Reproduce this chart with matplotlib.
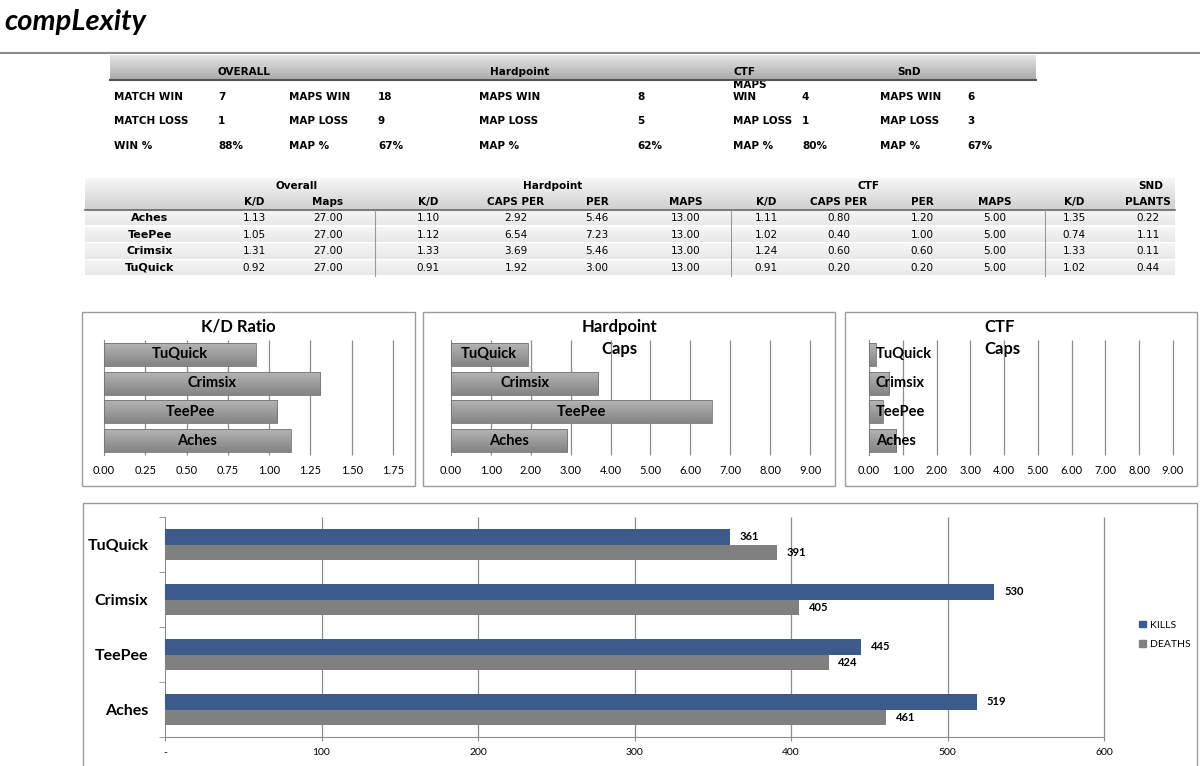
import numpy as np
import matplotlib
matplotlib.use("Agg")
from matplotlib import pyplot as plt
from matplotlib.colors import LinearSegmentedColormap
from matplotlib.patches import Rectangle, Patch

# DATA
players = ["Aches", "TeePee", "Crimsix", "TuQuick"]
overall_kd = [1.13, 1.05, 1.31, 0.92]
overall_maps = [27.00, 27.00, 27.00, 27.00]
hp_kd = [1.10, 1.12, 1.33, 0.91]
hp_caps_per = [2.92, 6.54, 3.69, 1.92]
hp_per = [5.46, 7.23, 5.46, 3.00]
hp_maps = [13.00, 13.00, 13.00, 13.00]
ctf_kd = [1.11, 1.02, 1.24, 0.91]
ctf_caps_per = [0.80, 0.40, 0.60, 0.20]
ctf_per = [1.20, 1.00, 0.60, 0.20]
ctf_maps = [5.00, 5.00, 5.00, 5.00]
snd_kd = [1.35, 0.74, 1.33, 1.02]
snd_plants = [0.22, 1.11, 0.11, 0.44]
kills = [519, 445, 530, 361]
deaths = [461, 424, 405, 391]

summary_headers = ["OVERALL", "Hardpoint", "CTF", "SnD"]
match_labels = ["MATCH WIN", "MATCH LOSS", "WIN %"]
match_values = ["7", "1", "88%"]
map_labels = ["MAPS WIN", "MAP LOSS", "MAP %"]
overall_map_values = ["18", "9", "67%"]
hp_map_values = ["8", "5", "62%"]
ctf_map_values = ["4", "1", "80%"]
snd_map_values = ["6", "3", "67%"]

kd_ticks = [0.00, 0.25, 0.50, 0.75, 1.00, 1.25, 1.50, 1.75]
caps_ticks = [0, 1, 2, 3, 4, 5, 6, 7, 8, 9]
kills_ticks = [0, 100, 200, 300, 400, 500, 600]
kills_tick_labels = ["-", "100", "200", "300", "400", "500", "600"]

W, H = 1200, 766
BLUE = "#3c5a8c"
GRAY = "#808080"
GRID = "#8c8c8c"
CHART_FONT = ["Lato", "DejaVu Sans"]


def fig_box(x0, y0, x1, y1):
    # pixel box (top-left origin) -> figure fraction rect
    return [x0 / W, 1 - y1 / H, (x1 - x0) / W, (y1 - y0) / H]


def gradient(ax, x0, x1, y0, y1, c_top, c_bottom, z=1):
    cmap = LinearSegmentedColormap.from_list("g", [c_top, c_bottom])
    grad = np.linspace(0, 1, 64).reshape(-1, 1)
    ax.imshow(grad, extent=(x0, x1, y1, y0), cmap=cmap, aspect="auto",
              zorder=z, interpolation="bilinear")


fig = plt.figure(figsize=(12, 7.66), dpi=100)
bg = fig.add_axes([0, 0, 1, 1])
bg.axis("off")

# TITLE
bg.text(4, 22, "compLexity", fontsize=21, style="italic", weight="bold",
        va="center", ha="left", color="black", family=CHART_FONT)
bg.plot([0, 1200], [53, 53], color="#8a8a8a", lw=1.5)

# SUMMARY TABLE
gradient(bg, 110, 1036, 55, 80, "#e6e6e6", "#a9a9a9", z=2)
bg.plot([110, 1036], [80, 80], color="#555555", lw=1.5, zorder=3)
bg.text(733, 85, "MAPS", fontsize=7.5, weight="bold", va="center", zorder=1)
for name, x in zip(summary_headers, [218, 490, 733, 897]):
    bg.text(x, 72, name, fontsize=7.5, weight="bold", va="center", zorder=4)

sum_cols = [
    (114, 218, match_labels, match_values),
    (289, 378, map_labels, overall_map_values),
    (479, 637, map_labels, hp_map_values),
    (733, 802, map_labels, ctf_map_values),
    (880, 967, map_labels, snd_map_values),
]
for lx, vx, labels, values in sum_cols:
    for i, (lab, val) in enumerate(zip(labels, values)):
        y = 97 + i * 24.5
        if lx == 733 and i == 0:
            lab = "WIN"
        bg.text(lx, y, lab, fontsize=7.5, weight="bold", va="center")
        bg.text(vx, y, val, fontsize=7.5, weight="bold", va="center")

# PLAYER TABLE
gradient(bg, 85, 1175, 178, 210, "#f7f7f7", "#cfcfcf", z=1)
bg.plot([85, 1175], [210, 210], color="#666666", lw=1.2, zorder=3)

groups = [
    ("Overall", 297, [("K/D", 254, overall_kd), ("Maps", 328, overall_maps)]),
    ("Hardpoint", 553, [("K/D", 428, hp_kd), ("CAPS PER", 516, hp_caps_per),
                        ("PER", 597, hp_per), ("MAPS", 686, hp_maps)]),
    ("CTF", 868, [("K/D", 766, ctf_kd), ("CAPS PER", 839, ctf_caps_per),
                  ("PER", 922, ctf_per), ("MAPS", 995, ctf_maps)]),
    ("SND", 1151, [("K/D", 1074, snd_kd), ("PLANTS", 1148, snd_plants)]),
]
row_y = [218, 234.7, 251.3, 268]
for i, y in enumerate(row_y):
    gradient(bg, 85, 1175, y - 7.5, y + 7.5, "#f6f6f6", "#e8e8e8", z=1)
    bg.text(150, y, players[i], fontsize=8, weight="bold", ha="center",
            va="center", zorder=4)
for gname, gx, cols in groups:
    bg.text(gx, 186, gname, fontsize=7.5, weight="bold", ha="center",
            va="center", zorder=4)
    for sub, cx, vals in cols:
        bg.text(cx, 202, sub, fontsize=7.5, weight="bold", ha="center",
                va="center", zorder=4)
        for y, v in zip(row_y, vals):
            bg.text(cx, y, f"{v:.2f}", fontsize=7.5, ha="center",
                    va="center", zorder=4)
for sx in [375, 731, 1045]:
    bg.plot([sx, sx], [210, 276], color="#9a9a9a", lw=0.8, zorder=3)

# PANEL FRAMES
for x0, y0, x1, y1 in [(82, 312, 415, 486), (423, 312, 835, 486),
                       (845, 312, 1197, 486), (83, 503, 1197, 770)]:
    bg.add_patch(Rectangle((x0, y0), x1 - x0, y1 - y0, fill=False,
                           edgecolor="#9c9c9c", lw=1, zorder=2))

title_kw = dict(fontsize=12, weight="bold", ha="center", va="center",
                family=CHART_FONT, zorder=5)
bg.text(238, 327, "K/D Ratio", **title_kw)
bg.text(619, 327, "Hardpoint", **title_kw)
bg.text(619, 349, "Caps", **title_kw)
bg.text(1000, 327, "CTF", **title_kw)
bg.text(1002, 349, "Caps", **title_kw)

bg.set_xlim(0, W)
bg.set_ylim(H, 0)


# SMALL BAR CHARTS
def small_chart(box, values, ticks, fmt, label_mode):
    ax = fig.add_axes(fig_box(*box))
    ax.set_facecolor("none")
    ypos = np.arange(len(players))
    bars = ax.barh(ypos, values, height=0.8, color="none",
                   edgecolor="#737373", lw=0.6, zorder=3)
    cmap = LinearSegmentedColormap.from_list("bar", ["#b4b4b4", "#848484"])
    grad = np.linspace(0, 1, 32).reshape(-1, 1)
    for b in bars:
        x, y = b.get_x(), b.get_y()
        ax.imshow(grad, extent=(x, x + b.get_width(), y, y + b.get_height()),
                  cmap=cmap, aspect="auto", zorder=2)
    for yv, v, name in zip(ypos, values, players):
        if label_mode == "center":
            ax.text(v / 2, yv, name, ha="center", va="center", fontsize=10.5,
                    weight="bold", family=CHART_FONT, zorder=4)
        else:
            ax.annotate(name, (0, yv), xytext=(5, 0),
                        textcoords="offset points", ha="left", va="center",
                        fontsize=10.5, weight="bold", family=CHART_FONT,
                        zorder=4)
    ax.vlines(ticks[1:], -0.5, len(players) - 0.5, color=GRID, lw=0.9,
              zorder=1, clip_on=False)
    ax.set_xlim(ticks[0], ticks[-1])
    ax.set_ylim(-0.5, len(players) - 0.5)
    ax.set_xticks(ticks)
    ax.set_xticklabels([fmt.format(t) for t in ticks], family=CHART_FONT,
                       fontsize=8)
    ax.set_yticks([])
    ax.tick_params(axis="x", length=0, pad=7)
    for s in ["top", "right", "bottom"]:
        ax.spines[s].set_visible(False)
    ax.spines["left"].set_color(GRID)
    ax.set_aspect("auto")
    return ax


small_chart((104, 340, 393, 455), overall_kd, kd_ticks, "{:.2f}", "center")
small_chart((451, 340, 810, 455), hp_caps_per, caps_ticks, "{:.2f}", "center")
small_chart((869, 340, 1173, 455), ctf_caps_per, caps_ticks, "{:.2f}", "base")

# KILLS / DEATHS CHART
ax = fig.add_axes(fig_box(165, 517, 1104, 737))
ax.set_facecolor("none")
ypos = np.arange(len(players))
bh = 0.285
kb = ax.barh(ypos + bh / 2, kills, height=bh, color=BLUE, zorder=3,
             label="KILLS")
db = ax.barh(ypos - bh / 2, deaths, height=bh, color=GRAY, zorder=3,
             label="DEATHS")
for bars, vals in [(kb, kills), (db, deaths)]:
    for b, v in zip(bars, vals):
        ax.annotate(str(v), (v, b.get_y() + b.get_height() / 2),
                    xytext=(7, 0), textcoords="offset points", ha="left",
                    va="center", fontsize=8, weight="bold", family=CHART_FONT)
ax.vlines(kills_ticks[1:], -0.5, len(players) - 0.5, color=GRID, lw=0.9,
          zorder=1, clip_on=False)
ax.set_xlim(0, 600)
ax.set_ylim(-0.5, len(players) - 0.5)
ax.set_xticks(kills_ticks)
ax.set_xticklabels(kills_tick_labels, family=CHART_FONT, fontsize=7.5)
ax.set_yticks(ypos)
ax.set_yticklabels(players, family=CHART_FONT, fontsize=11.5, weight="bold")
ax.set_yticks(np.arange(-0.5, len(players)), minor=True)
ax.tick_params(axis="y", which="major", length=0, pad=12)
ax.tick_params(axis="y", which="minor", length=4, color=GRID)
ax.tick_params(axis="x", length=3, color=GRID, pad=5)
for s in ["top", "right"]:
    ax.spines[s].set_visible(False)
for s in ["left", "bottom"]:
    ax.spines[s].set_color(GRID)

handles = [Patch(color=BLUE, label="KILLS"), Patch(color=GRAY, label="DEATHS")]
fig.legend(handles=handles, loc="center left",
           bbox_to_anchor=(1130 / W, 1 - 635 / H), frameon=False,
           prop={"family": CHART_FONT, "size": 7.5}, handlelength=0.6,
           handleheight=0.6, handletextpad=0.4, labelspacing=1.0)

fig.savefig("out.png", dpi=100, facecolor="white")
